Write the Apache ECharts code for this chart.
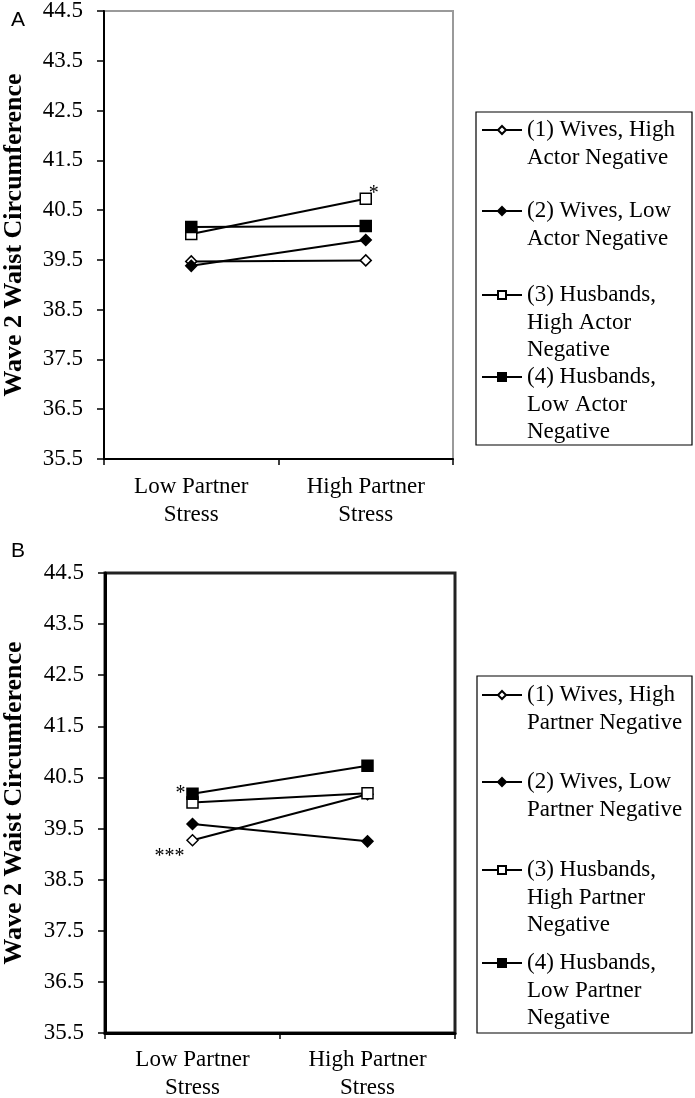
<!DOCTYPE html>
<html><head><meta charset="utf-8">
<script src="https://cdn.jsdelivr.net/npm/echarts@6/dist/echarts.min.js"></script>
<style>html,body{margin:0;padding:0;background:#fff}#c{width:695px;height:1098px}</style>
</head><body><div id="c"></div>
<script>
// ---- data ----
const categories = ['Low Partner\nStress', 'High Partner\nStress'];
const yTicks = [35.5, 36.5, 37.5, 38.5, 39.5, 40.5, 41.5, 42.5, 43.5, 44.5];
const yTitle = 'Wave 2 Waist Circumference';

const legendLinesA = [
  ['(1) Wives, High', 'Actor Negative'],
  ['(2) Wives, Low', 'Actor Negative'],
  ['(3) Husbands,', 'High Actor', 'Negative'],
  ['(4) Husbands,', 'Low Actor', 'Negative']
];
const legendLinesB = [
  ['(1) Wives, High', 'Partner Negative'],
  ['(2) Wives, Low', 'Partner Negative'],
  ['(3) Husbands,', 'High Partner', 'Negative'],
  ['(4) Husbands,', 'Low Partner', 'Negative']
];

const valuesA1 = [39.47, 39.49];
const valuesA2 = [39.38, 39.90];
const valuesA3 = [40.02, 40.73];
const valuesA4 = [40.16, 40.18];

const valuesB1 = [39.27, 40.17];
const valuesB2 = [39.59, 39.25];
const valuesB3 = [40.01, 40.19];
const valuesB4 = [40.18, 40.73];

// significance marks: [series index, point index, text]
const marksA = [[2, 1, '*']];
const marksB = [[3, 0, '*'], [0, 0, '***']];

// ---- styling ----
const SERIF = '"Liberation Serif", "Times New Roman", serif';
const SANS = '"Liberation Sans", Arial, sans-serif';
const symbols = ['diamond', 'diamond', 'rect', 'rect'];
const fills = ['#ffffff', '#000000', '#ffffff', '#000000'];
const markOffsetA = { '2-1': [8, -5] };
const markOffsetB = { '3-0': [-12, 0], '0-0': [-23, 16] };
const LH = 27.5;

const chart = echarts.init(document.getElementById('c'), null, { renderer: 'canvas' });

function buildSeries(valuesList, legendLines, marks, offsets, axisIdx) {
  return valuesList.map((vals, si) => ({
    type: 'line',
    name: legendLines[si].join(' '),
    xAxisIndex: axisIdx, yAxisIndex: axisIdx,
    symbol: symbols[si],
    symbolSize: 11,
    lineStyle: { color: '#000', width: 2 },
    itemStyle: { color: fills[si], borderColor: '#000', borderWidth: 1.5 },
    emphasis: { disabled: true },
    animation: false,
    z: 3 + si,
    data: vals.map((v, pi) => {
      const m = marks.find(mk => mk[0] === si && mk[1] === pi);
      if (!m) return v;
      return {
        value: v,
        label: {
          show: true, formatter: m[2], position: 'inside',
          offset: offsets[si + '-' + pi],
          fontFamily: SERIF, fontSize: 20, color: '#000'
        }
      };
    })
  }));
}

function buildLegends(legendLines, firstLineY) {
  return legendLines.map((lines, i) => {
    const n = lines.length;
    // prepend (n-1) blank lines so the first real line sits beside the icon
    const txt = new Array(n - 1).fill('').concat(lines).join('\n');
    return {
      data: [lines.join(' ')],
      left: 481,
      top: firstLineY[i] - LH / 2 - (n - 1) * LH,
      padding: 0,
      itemWidth: 40, itemHeight: 10, itemGap: 0,
      selectedMode: false,
      formatter: () => txt,
      textStyle: { fontFamily: SERIF, fontSize: 23, color: '#000', lineHeight: LH }
    };
  });
}

function yAxis(gridIndex, nameGap, lineWidth) {
  return {
    type: 'value', gridIndex, min: 35.5, max: 44.5,
    name: yTitle, nameLocation: 'middle', nameGap,
    nameTextStyle: { fontFamily: SERIF, fontSize: 26, fontWeight: 'bold', color: '#000' },
    splitLine: { show: false },
    axisLine: { show: true, lineStyle: { color: '#000', width: lineWidth } },
    axisTick: { show: true, length: 7, customValues: yTicks, lineStyle: { color: '#000', width: 1.5 } },
    axisLabel: { customValues: yTicks, formatter: v => v.toFixed(1), margin: 21,
      fontFamily: SERIF, fontSize: 23, color: '#000' }
  };
}
function xAxis(gridIndex, lineWidth, margin) {
  return {
    type: 'category', gridIndex, data: categories, boundaryGap: true,
    axisLine: { show: true, lineStyle: { color: '#000', width: lineWidth } },
    axisTick: { show: true, length: 6, lineStyle: { color: '#000', width: 1.5 } },
    axisLabel: { margin, fontFamily: SERIF, fontSize: 23, lineHeight: 28, color: '#000' }
  };
}

const option = {
  backgroundColor: '#fff',
  animation: false,
  title: [
    { text: 'A', left: 6, top: 5, textStyle: { fontFamily: SANS, fontSize: 21, fontWeight: 'normal', color: '#000' } },
    { text: 'B', left: 6, top: 536, textStyle: { fontFamily: SANS, fontSize: 21, fontWeight: 'normal', color: '#000' } }
  ],
  grid: [
    { left: 104, top: 11, width: 349, height: 448, show: true, borderColor: '#9a9a9a', borderWidth: 2, containLabel: false, outerBoundsMode: 'none' },
    { left: 105, top: 573, width: 350, height: 460, show: true, borderColor: '#222', borderWidth: 3, containLabel: false, outerBoundsMode: 'none' }
  ],
  xAxis: [xAxis(0, 2, 14), xAxis(1, 3, 13)],
  yAxis: [yAxis(0, 77, 2), yAxis(1, 78, 3)],
  legend: [
    ...buildLegends(legendLinesA, [130, 211, 295, 377]),
    ...buildLegends(legendLinesB, [695, 782, 870, 963])
  ],
  graphic: [
    { type: 'rect', shape: { x: 476, y: 112, width: 216, height: 333 }, style: { fill: 'none', stroke: '#000', lineWidth: 1.2 }, z: 0 },
    { type: 'rect', shape: { x: 477, y: 676, width: 215, height: 357 }, style: { fill: 'none', stroke: '#000', lineWidth: 1.2 }, z: 0 }
  ],
  series: [
    ...buildSeries([valuesA1, valuesA2, valuesA3, valuesA4], legendLinesA, marksA, markOffsetA, 0),
    ...buildSeries([valuesB1, valuesB2, valuesB3, valuesB4], legendLinesB, marksB, markOffsetB, 1)
  ]
};
chart.setOption(option);
</script>
</body></html>
